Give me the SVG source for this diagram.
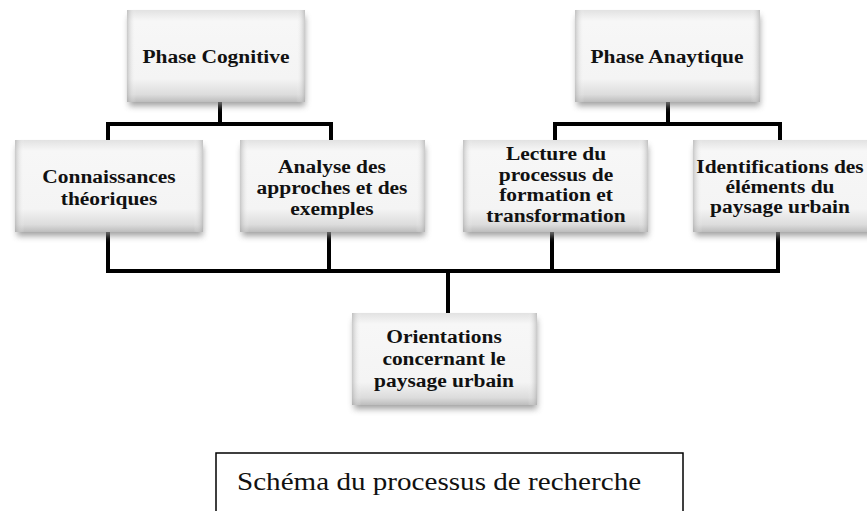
<svg xmlns="http://www.w3.org/2000/svg" width="867" height="511" viewBox="0 0 867 511">
<defs>
<linearGradient id="gv" x1="0" y1="0" x2="0" y2="1">
<stop offset="0" stop-color="#e2e2e2"/>
<stop offset="0.12" stop-color="#f7f7f7"/>
<stop offset="0.75" stop-color="#f4f4f4"/>
<stop offset="0.92" stop-color="#dcdcdc"/>
<stop offset="1" stop-color="#bdbdbd"/>
</linearGradient>
<linearGradient id="gh" x1="0" y1="0" x2="1" y2="0">
<stop offset="0" stop-color="#a8a8a8" stop-opacity="0.6"/>
<stop offset="0.05" stop-color="#ffffff" stop-opacity="0"/>
<stop offset="0.95" stop-color="#ffffff" stop-opacity="0"/>
<stop offset="1" stop-color="#a8a8a8" stop-opacity="0.6"/>
</linearGradient>
<filter id="sh" x="-20%" y="-20%" width="140%" height="150%">
<feGaussianBlur stdDeviation="3"/>
</filter>
</defs>
<style>
.shadow{fill:#8a8a8a;filter:url(#sh);opacity:0.8}
.box{fill:url(#gv)}
.edge{fill:url(#gh)}
.lbl{font-family:"Liberation Serif","Times New Roman",serif;font-weight:bold;font-size:19.5px;fill:#111;text-anchor:middle}
.cap{font-family:"Liberation Serif","Times New Roman",serif;font-size:26px;fill:#111}
.con{stroke:#000;stroke-width:4;fill:none;stroke-linecap:square}
</style>
<rect width="867" height="511" fill="#fff"/>

<g id="connectors">
<path class="con" d="M220 102V124M108 124H331M108 124V140M331 124V140"/>
<path class="con" d="M668 102V124M555 124H780M555 124V140M780 124V140"/>
<path class="con" d="M108 232V271M329 232V271M552 232V271M778 232V271M108 271H778M448 271V312"/>
</g>

<g id="phase-cognitive">
<rect class="shadow" x="129" y="16" width="176" height="90"/>
<rect class="box" x="127" y="10" width="178" height="92"/>
<rect class="edge" x="127" y="10" width="178" height="92"/>
<g transform="translate(216 0) scale(1.1 1)"><text class="lbl" x="0" y="63">Phase Cognitive</text></g>
</g>

<g id="phase-analytique">
<rect class="shadow" x="577" y="16" width="183" height="90"/>
<rect class="box" x="575" y="10" width="185" height="92"/>
<rect class="edge" x="575" y="10" width="185" height="92"/>
<g transform="translate(667 0) scale(1.1 1)"><text class="lbl" x="0" y="63">Phase Anaytique</text></g>
</g>

<g id="connaissances">
<rect class="shadow" x="17" y="146" width="186" height="90"/>
<rect class="box" x="15" y="140" width="188" height="92"/>
<rect class="edge" x="15" y="140" width="188" height="92"/>
<g transform="translate(109 0) scale(1.1 1)"><text class="lbl" x="0" y="183">Connaissances</text><text class="lbl" x="0" y="205">théoriques</text></g>
</g>

<g id="analyse">
<rect class="shadow" x="242" y="146" width="183" height="90"/>
<rect class="box" x="240" y="140" width="185" height="92"/>
<rect class="edge" x="240" y="140" width="185" height="92"/>
<g transform="translate(332 0) scale(1.1 1)"><text class="lbl" x="0" y="173">Analyse des</text><text class="lbl" x="0" y="194">approches et des</text><text class="lbl" x="0" y="215">exemples</text></g>
</g>

<g id="lecture">
<rect class="shadow" x="465" y="146" width="183" height="90"/>
<rect class="box" x="463" y="140" width="185" height="92"/>
<rect class="edge" x="463" y="140" width="185" height="92"/>
<g transform="translate(556 0) scale(1.1 1)"><text class="lbl" x="0" y="160">Lecture du</text><text class="lbl" x="0" y="181">processus de</text><text class="lbl" x="0" y="201">formation et</text><text class="lbl" x="0" y="222">transformation</text></g>
</g>

<g id="identifications">
<rect class="shadow" x="695" y="146" width="188" height="90"/>
<rect class="box" x="693" y="140" width="190" height="92"/>
<rect class="edge" x="693" y="140" width="190" height="92"/>
<g transform="translate(780 0) scale(1.1 1)"><text class="lbl" x="0" y="173">Identifications des</text><text class="lbl" x="0" y="193">éléments du</text><text class="lbl" x="0" y="213">paysage urbain</text></g>
</g>

<g id="orientations">
<rect class="shadow" x="354" y="319" width="183" height="90"/>
<rect class="box" x="352" y="313" width="185" height="92"/>
<rect class="edge" x="352" y="313" width="185" height="92"/>
<g transform="translate(444 0) scale(1.1 1)"><text class="lbl" x="0" y="343">Orientations</text><text class="lbl" x="0" y="365">concernant le</text><text class="lbl" x="0" y="387">paysage urbain</text></g>
</g>

<g id="caption">
<rect x="216" y="453" width="467" height="80" fill="#fff" stroke="#000" stroke-width="1.5"/>
<g transform="translate(237 0) scale(1.12 1)"><text class="cap" x="0" y="490">Schéma du processus de recherche</text></g>
</g>
</svg>
